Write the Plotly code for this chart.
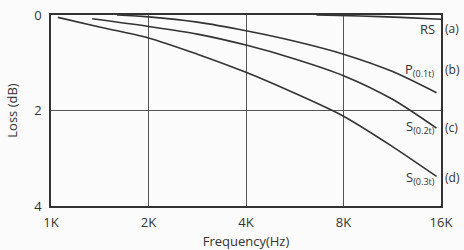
import plotly.graph_objects as go

# Data (frequency in Hz, loss in dB)
rs_f = [6600, 9000, 12000, 16000]
rs_loss = [0.0, 0.02, 0.05, 0.09]

p_f = [1600, 2000, 2830, 4000, 5660, 8000, 11300, 15500]
p_loss = [0.0, 0.04, 0.15, 0.33, 0.55, 0.82, 1.18, 1.63]

s2_f = [1340, 2000, 2830, 4000, 5660, 8000, 11300, 15500]
s2_loss = [0.08, 0.24, 0.40, 0.63, 0.92, 1.27, 1.76, 2.37]

s3_f = [1050, 1410, 2000, 2830, 4000, 5660, 8000, 11300, 15500]
s3_loss = [0.05, 0.25, 0.48, 0.82, 1.20, 1.64, 2.12, 2.75, 3.38]

tick_vals = [1000, 2000, 4000, 8000, 16000]
tick_text = ["1K", "2K", "4K", "8K", "16K"]
y_ticks = [0, 2, 4]

labels = ["RS", "P<sub>(0.1t)</sub>", "S<sub>(0.2t)</sub>", "S<sub>(0.3t)</sub>"]
tags = ["(a)", "(b)", "(c)", "(d)"]
label_loss = [0.29, 1.15, 2.35, 3.41]

line_col = "#333333"
font_fam = "Open Sans, DejaVu Sans, sans-serif"

fig = go.Figure()
for fx, fy in [(rs_f, rs_loss), (p_f, p_loss), (s2_f, s2_loss), (s3_f, s3_loss)]:
    fig.add_trace(go.Scatter(x=fx, y=fy, mode="lines",
                             line=dict(color=line_col, width=1.6, shape="spline", smoothing=0.8),
                             showlegend=False, hoverinfo="skip"))

for lab, tag, yv in zip(labels, tags, label_loss):
    fig.add_annotation(x=0.99, xref="paper", y=yv, yref="y", text=lab, showarrow=False,
                       xanchor="right", yanchor="middle", font=dict(size=13, color="#333"))
    fig.add_annotation(x=1.005, xref="paper", y=yv, yref="y", text=tag, showarrow=False,
                       xanchor="left", yanchor="middle", font=dict(size=12, color="#333"))

fig.update_layout(
    width=464, height=250,
    margin=dict(l=51, r=23, t=15, b=44),
    paper_bgcolor="#fbfbfb", plot_bgcolor="#fbfbfb",
    font=dict(family=font_fam, size=13, color="#333"),
)
fig.update_xaxes(type="log", range=[3, 4.20412], tickvals=tick_vals, ticktext=tick_text,
                 showgrid=True, gridcolor="#555", gridwidth=1, showline=True, linecolor="#333",
                 linewidth=1.5, mirror=True, ticks="", zeroline=False, ticklabelstandoff=4,
                 automargin=False,
                 title=dict(text="Frequency(Hz)", standoff=7, font=dict(size=13)),
                 tickfont=dict(size=13))
fig.update_yaxes(range=[4, 0], tickvals=y_ticks, showgrid=True, gridcolor="#555", gridwidth=1,
                 showline=True, linecolor="#333", linewidth=1.5, mirror=True, ticks="",
                 zeroline=False, ticklabelstandoff=5, automargin=False,
                 title=dict(text="Loss (dB)", standoff=14, font=dict(size=13)),
                 tickfont=dict(size=13))

# remove the page's default 8px body margin so the figure fills the window exactly
fig.write_html("out.html", config={"displayModeBar": False},
               post_script="document.body.style.margin='0';")
